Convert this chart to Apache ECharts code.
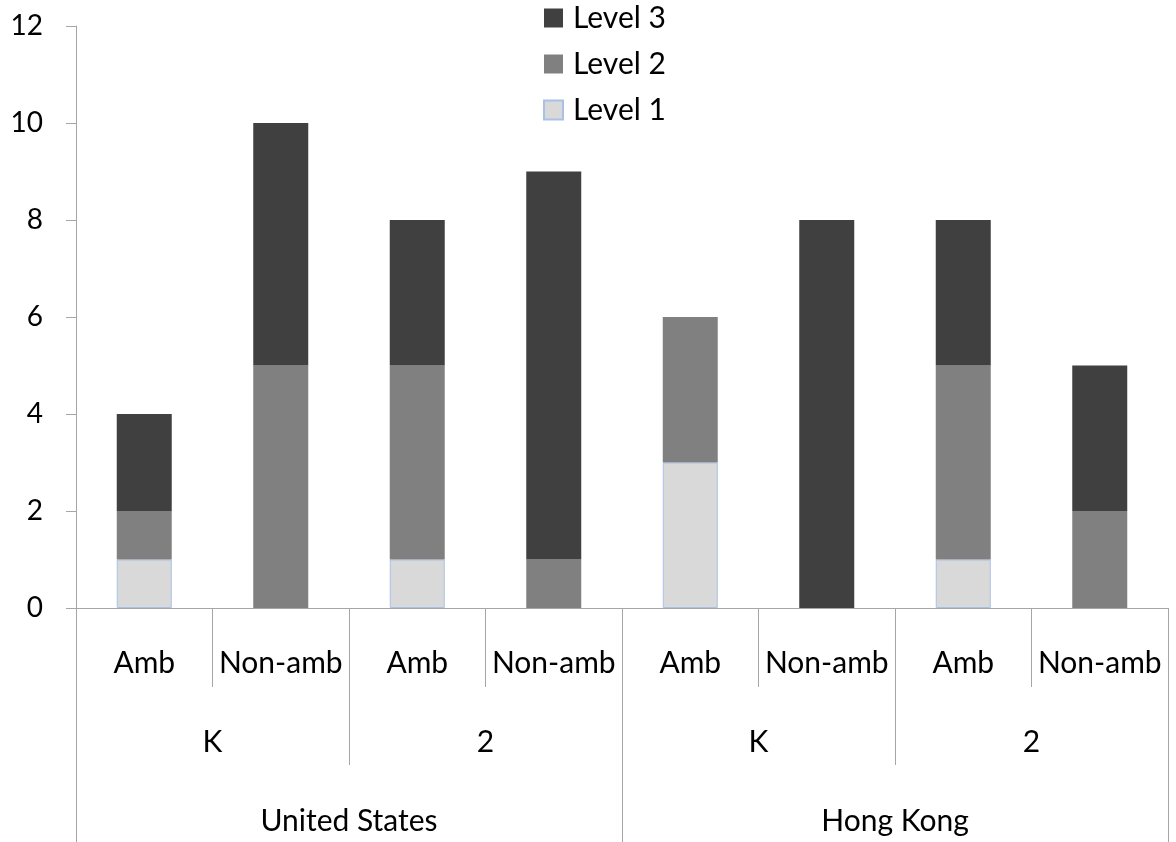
<!DOCTYPE html>
<html>
<head>
<meta charset="utf-8">
<style>
  html, body { margin: 0; padding: 0; background: #fff; }
  #chart { width: 1176px; height: 842px; }
</style>
<script src="https://cdn.jsdelivr.net/npm/echarts@6/dist/echarts.min.js"></script>
</head>
<body>
<div id="chart"></div>
<script>
// Category hierarchy: ambiguity type within grade within country
const ambLabels = ['Amb', 'Non-amb', 'Amb', 'Non-amb', 'Amb', 'Non-amb', 'Amb', 'Non-amb'];
const gradeLabels = ['K', '2', 'K', '2'];
const countryLabels = ['United States', 'Hong Kong'];

// Counts per level, one value per bottom-level category
const level1 = [1, 0, 1, 0, 3, 0, 1, 0];
const level2 = [1, 5, 4, 1, 3, 0, 4, 2];
const level3 = [2, 5, 3, 8, 0, 8, 3, 3];

const yTicks = { min: 0, max: 12, interval: 2 };

const FONT = 'Lato';
const AXIS_GRAY = '#a6a6a6';
const TXT = '#000';

const chart = echarts.init(document.getElementById('chart'), null, { renderer: 'canvas' });

function levelAxis(labels, tickLen, labelMargin) {
  return {
    type: 'category',
    data: labels,
    position: 'bottom',
    gridIndex: 0,
    boundaryGap: true,
    axisLine: { show: true, lineStyle: { color: AXIS_GRAY, width: 1 } },
    axisTick: { show: true, length: tickLen, alignWithLabel: false, interval: 0,
                lineStyle: { color: AXIS_GRAY, width: 1 } },
    axisLabel: { show: true, interval: 0, margin: labelMargin, verticalAlign: 'middle',
                 color: TXT, fontFamily: FONT, fontSize: 30 },
    splitLine: { show: false }
  };
}

const hideZero = arr => arr.map(v => (v === 0 ? null : v));

chart.setOption({
  animation: false,
  backgroundColor: '#fff',
  grid: { left: 76, right: 8, top: 26, bottom: 234, containLabel: false },
  legend: {
    orient: 'vertical',
    left: 543,
    top: 3,
    padding: 0,
    itemWidth: 19,
    itemHeight: 19,
    itemGap: 16,
    data: ['Level 3', 'Level 2', 'Level 1'],
    textStyle: { color: TXT, fontFamily: FONT, fontSize: 30, lineHeight: 30, padding: [0, 0, 0, 5] },
    icon: 'rect'
  },
  xAxis: [
    levelAxis(ambLabels, 79, 55),
    levelAxis(gradeLabels, 157, 134),
    levelAxis(countryLabels, 234, 213)
  ],
  yAxis: {
    type: 'value',
    min: yTicks.min,
    max: yTicks.max,
    interval: yTicks.interval,
    axisLine: { show: true, lineStyle: { color: AXIS_GRAY, width: 1 } },
    axisTick: { show: true, length: 10, lineStyle: { color: AXIS_GRAY } },
    axisLabel: { color: TXT, fontFamily: FONT, fontSize: 28, margin: 33 },
    splitLine: { show: false }
  },
  series: [
    {
      name: 'Level 1', type: 'bar', stack: 'total', xAxisIndex: 0,
      barWidth: 55,
      data: hideZero(level1),
      itemStyle: { color: '#d9d9d9', borderColor: '#a9c1e6', borderWidth: 1 }
    },
    {
      name: 'Level 2', type: 'bar', stack: 'total', xAxisIndex: 0,
      barWidth: 55,
      data: hideZero(level2),
      itemStyle: { color: '#808080' }
    },
    {
      name: 'Level 3', type: 'bar', stack: 'total', xAxisIndex: 0,
      barWidth: 55,
      data: hideZero(level3),
      itemStyle: { color: '#404040' }
    }
  ]
});
</script>
</body>
</html>
